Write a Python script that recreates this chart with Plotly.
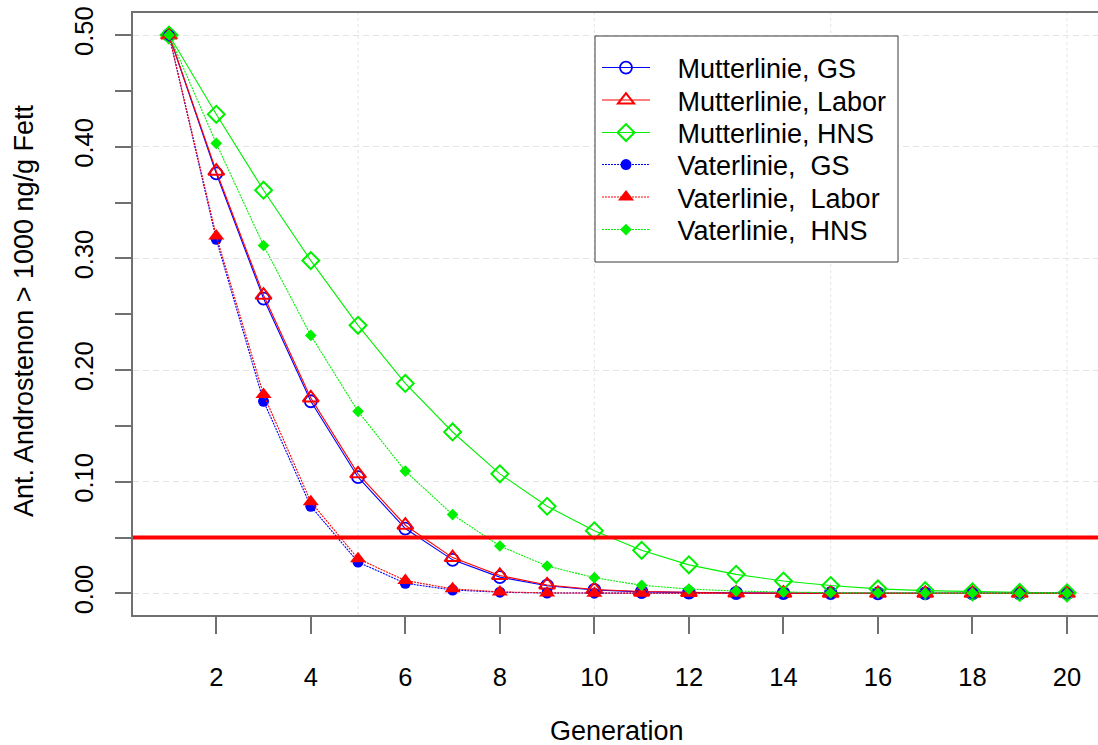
import plotly.graph_objects as go

# ---------------- data ----------------
generation = list(range(1, 21))

mutter_gs = [0.500, 0.376, 0.264, 0.172, 0.104, 0.058, 0.030, 0.0145, 0.0068, 0.0030,
             0.0013, 0.0006, 0.0003, 0.0001, 0.0001, 0.0, 0.0, 0.0, 0.0, 0.0]
mutter_labor = [0.500, 0.378, 0.267, 0.175, 0.107, 0.061, 0.032, 0.016, 0.0075, 0.0035,
                0.0016, 0.0007, 0.0003, 0.00015, 0.0001, 0.0, 0.0, 0.0, 0.0, 0.0]
mutter_hns = [0.500, 0.429, 0.361, 0.298, 0.240, 0.188, 0.1445, 0.107, 0.078, 0.056,
              0.0385, 0.0255, 0.017, 0.011, 0.007, 0.004, 0.0024, 0.0014, 0.0008, 0.0005]
vater_gs = [0.500, 0.317, 0.172, 0.078, 0.028, 0.009, 0.003, 0.001, 0.0003, 0.0001,
            0.0, 0.0, 0.0, 0.0, 0.0, 0.0, 0.0, 0.0, 0.0, 0.0]
vater_labor = [0.500, 0.320, 0.178, 0.082, 0.031, 0.0115, 0.004, 0.0013, 0.0004, 0.0001,
               0.0, 0.0, 0.0, 0.0, 0.0, 0.0, 0.0, 0.0, 0.0, 0.0]
vater_hns = [0.500, 0.403, 0.3115, 0.231, 0.163, 0.1095, 0.0705, 0.0424, 0.0245, 0.014,
             0.0072, 0.0039, 0.002, 0.001, 0.0005, 0.0003, 0.0002, 0.0001, 0.0001, 0.0]

series_names = ["Mutterlinie, GS", "Mutterlinie, Labor", "Mutterlinie, HNS",
                "Vaterlinie,\u00a0 GS", "Vaterlinie,\u00a0 Labor", "Vaterlinie,\u00a0 HNS"]
threshold = 0.05
x_title = "Generation"
y_title = "Ant. Androstenon > 1000 ng/g Fett"
grid_x = [5, 10, 15, 20]

# ---------------- styling ----------------
FONT = "Liberation Sans, Arial, Helvetica, sans-serif"
AXIS_GRAY = "#707070"
GRID_GRAY = "#e4e4e4"
W, H = 1098, 745
L, R, T, B = 133, 0, 13, 130
PW, PH = W - L - R, H - T - B


def px_x(p):
    return (p - L) / PW


def px_y(p):
    return (H - B - p) / PH


GREEN = "#00F000"
styles = [
    dict(color="#0000FF", symbol="circle-open", size=12, lw=1.8, dash="solid"),
    dict(color="#FF0000", symbol="triangle-up-open", size=14, lw=2.0, dash="solid"),
    dict(color=GREEN, symbol="diamond-open", size=13, lw=2.0, dash="solid"),
    dict(color="#0000FF", symbol="circle", size=11, lw=0, dash="2px,1px"),
    dict(color="#FF0000", symbol="triangle-up", size=14, lw=0, dash="2px,1px"),
    dict(color=GREEN, symbol="diamond", size=9, lw=0, dash="2px,1px"),
]
series_values = [mutter_gs, mutter_labor, mutter_hns, vater_gs, vater_labor, vater_hns]
legend_ids = ["legend", "legend2", "legend3", "legend4", "legend5", "legend6"]
legend_rows_px = [68, 100.5, 133, 165, 197.5, 230]
PAD = "\u00a0\u00a0\u00a0"

fig = go.Figure()
for name, vals, st, lid in zip(series_names, series_values, styles, legend_ids):
    fig.add_trace(go.Scatter(
        x=generation, y=vals, name=PAD + name, legend=lid,
        mode="lines+markers",
        line=dict(color=st["color"], width=1.1, dash=st["dash"]),
        marker=dict(symbol=st["symbol"], size=st["size"], color=st["color"],
                    line=dict(color=st["color"], width=st["lw"])),
        cliponaxis=False,
    ))

legend_layouts = {}
for lid, row in zip(legend_ids, legend_rows_px):
    legend_layouts[lid] = dict(
        x=px_x(597), y=px_y(row), xanchor="left", yanchor="middle",
        bgcolor="rgba(0,0,0,0)", borderwidth=0, itemwidth=48,
        font=dict(family=FONT, size=27, color="black"),
    )

shapes = []
for gx in grid_x:
    shapes.append(dict(type="line", xref="x", yref="paper", x0=gx, x1=gx, y0=0, y1=1,
                       line=dict(color=GRID_GRAY, width=1, dash="3px,3px"), layer="below"))
shapes.append(dict(type="line", xref="paper", yref="y", x0=0, x1=1, y0=threshold, y1=threshold,
                   line=dict(color="#FF0000", width=4), layer="above"))
# legend frame
shapes.append(dict(type="rect", xref="paper", yref="paper",
                   x0=px_x(595), x1=px_x(898), y0=px_y(262), y1=px_y(36),
                   line=dict(color="#3a3a3a", width=1), fillcolor="white", layer="above"))

fig.update_layout(
    width=W, height=H, autosize=False,
    margin=dict(l=L, r=R, t=T, b=B, pad=0),
    paper_bgcolor="white", plot_bgcolor="white",
    font=dict(family=FONT, color="black"),
    showlegend=True,
    shapes=shapes,
    annotations=[
        dict(text=x_title, xref="paper", yref="paper", x=px_x(617), y=0,
             xanchor="center", yanchor="middle", yshift=-116, showarrow=False,
             font=dict(family=FONT, size=27, color="black")),
        dict(text=y_title, xref="paper", yref="paper", x=0, y=px_y(311),
             xanchor="center", yanchor="middle", xshift=24 - L, showarrow=False,
             textangle=-90, font=dict(family=FONT, size=27, color="black")),
    ],
    xaxis=dict(
        range=[0.238, 20.656], tick0=0, dtick=2,
        ticks="outside", ticklen=17, tickwidth=1.5, tickcolor=AXIS_GRAY,
        showline=True, linecolor=AXIS_GRAY, linewidth=1.5, mirror=True,
        showgrid=False, zeroline=False, automargin=False,
        tickfont=dict(family=FONT, size=25.5, color="black"),
        ticklabelstandoff=22,
    ),
    yaxis=dict(
        range=[-0.0194, 0.5197], tick0=0, dtick=0.1, tickformat=".2f", tickangle=-90,
        ticks="outside", ticklen=16, tickwidth=1.5, tickcolor=AXIS_GRAY,
        minor=dict(tick0=0, dtick=0.05, ticks="outside", ticklen=16, tickwidth=1.5,
                   tickcolor=AXIS_GRAY, showgrid=False),
        showline=True, linecolor=AXIS_GRAY, linewidth=1.5,
        showgrid=True, gridcolor=GRID_GRAY, gridwidth=1, griddash="6px,4px",
        zeroline=False, automargin=False,
        tickfont=dict(family=FONT, size=25.5, color="black"),
        ticklabelstandoff=12,
    ),
    **legend_layouts,
)

fig.write_html("out.html")
